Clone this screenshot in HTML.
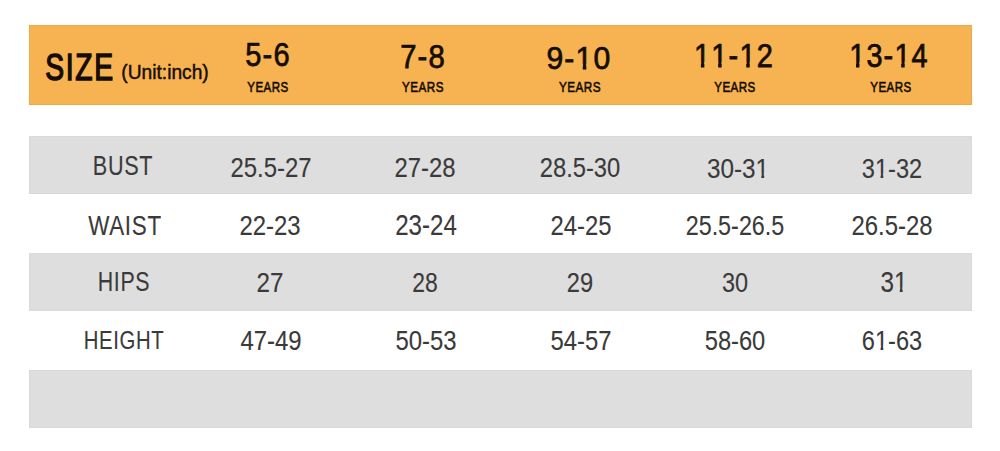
<!DOCTYPE html>
<html><head><meta charset="utf-8"><style>
html,body{margin:0;padding:0;}
body{width:1000px;height:451px;position:relative;overflow:hidden;background:#fff;font-family:"Liberation Sans",sans-serif;}
.b{position:absolute;}
.t{position:absolute;white-space:nowrap;line-height:1;transform-origin:50% 50%;}
.o{display:inline-block;clip-path:polygon(-0.1em -0.2em,0.7em -0.2em,0.7em 0.68em,0.355em 0.68em,0.355em 1.2em,0.237em 1.2em,0.237em 0.68em,-0.1em 0.68em)}
</style></head><body>
<div class="b" style="left:28px;top:24px;width:945px;height:82px;background:#FFFBE8"></div>
<div class="b" style="left:29px;top:25px;width:943px;height:80px;background:#F7B352;box-shadow:inset 0 0 0 1px #DDAE5C"></div>
<div class="b" style="left:29px;top:136px;width:943px;height:58px;background:#DEDEDE;box-shadow:inset 0 0 0 1px #D9D9D9"></div>
<div class="b" style="left:29px;top:253px;width:943px;height:58px;background:#DEDEDE;box-shadow:inset 0 0 0 1px #D9D9D9"></div>
<div class="b" style="left:29px;top:370px;width:943px;height:58px;background:#DEDEDE;box-shadow:inset 0 0 0 1px #D9D9D9"></div>
<div class="t" style="left:80.47px;top:49.56px;font-size:36.96px;color:#150d05;-webkit-text-stroke:1.50px currentColor;letter-spacing:0.060em;transform:translateX(-50%) scaleX(0.7643)">SIZE</div>
<div class="t" style="left:164.51px;top:62.47px;font-size:20.49px;color:#150d05;-webkit-text-stroke:0.45px currentColor;transform:translateX(-50%) scaleX(0.9378)">(Unit:inch)</div>
<div class="t" style="left:267.52px;top:37.92px;font-size:33.96px;color:#150d05;-webkit-text-stroke:0.75px currentColor;letter-spacing:0.040em;transform:translateX(-50%) scaleX(0.8554)">5-6</div>
<div class="t" style="left:268.19px;top:79.75px;font-size:14.96px;color:#150d05;-webkit-text-stroke:0.60px currentColor;letter-spacing:0.040em;transform:translateX(-50%) scaleX(0.7711)">YEARS</div>
<div class="t" style="left:423.20px;top:40.67px;font-size:32.46px;color:#150d05;-webkit-text-stroke:0.75px currentColor;letter-spacing:0.040em;transform:translateX(-50%) scaleX(0.9003)">7-8</div>
<div class="t" style="left:422.64px;top:79.34px;font-size:15.15px;color:#150d05;-webkit-text-stroke:0.60px currentColor;letter-spacing:0.040em;transform:translateX(-50%) scaleX(0.7687)">YEARS</div>
<div class="t" style="left:578.96px;top:42.45px;font-size:32.04px;color:#150d05;-webkit-text-stroke:0.75px currentColor;letter-spacing:0.040em;transform:translateX(-50%) scaleX(0.9414)">9-<span class="o">1</span>0</div>
<div class="t" style="left:579.71px;top:78.94px;font-size:15.40px;color:#150d05;-webkit-text-stroke:0.60px currentColor;letter-spacing:0.040em;transform:translateX(-50%) scaleX(0.7628)">YEARS</div>
<div class="t" style="left:734.44px;top:39.94px;font-size:32.61px;color:#150d05;-webkit-text-stroke:0.75px currentColor;letter-spacing:0.040em;transform:translateX(-50%) scaleX(0.8882)"><span class="o">1</span><span class="o">1</span>-<span class="o">1</span>2</div>
<div class="t" style="left:734.55px;top:79.31px;font-size:15.15px;color:#150d05;-webkit-text-stroke:0.60px currentColor;letter-spacing:0.040em;transform:translateX(-50%) scaleX(0.7660)">YEARS</div>
<div class="t" style="left:889.16px;top:39.55px;font-size:32.69px;color:#150d05;-webkit-text-stroke:0.75px currentColor;letter-spacing:0.040em;transform:translateX(-50%) scaleX(0.8836)"><span class="o">1</span>3-<span class="o">1</span>4</div>
<div class="t" style="left:890.69px;top:79.46px;font-size:15.00px;color:#150d05;-webkit-text-stroke:0.60px currentColor;letter-spacing:0.040em;transform:translateX(-50%) scaleX(0.7698)">YEARS</div>
<div class="t" style="left:123.12px;top:151.38px;font-size:28.35px;color:#3a3a3a;-webkit-text-stroke:0.12px currentColor;letter-spacing:0.030em;transform:translateX(-50%) scaleX(0.7641)">BUST</div>
<div class="t" style="left:270.69px;top:153.24px;font-size:28.41px;color:#3a3a3a;-webkit-text-stroke:0.12px currentColor;transform:translateX(-50%) scaleX(0.8431)">25.5-27</div>
<div class="t" style="left:425.35px;top:154.48px;font-size:27.73px;color:#3a3a3a;-webkit-text-stroke:0.12px currentColor;transform:translateX(-50%) scaleX(0.8625)">27-28</div>
<div class="t" style="left:580.25px;top:154.21px;font-size:27.64px;color:#3a3a3a;-webkit-text-stroke:0.12px currentColor;transform:translateX(-50%) scaleX(0.8601)">28.5-30</div>
<div class="t" style="left:737.82px;top:154.68px;font-size:27.14px;color:#3a3a3a;-webkit-text-stroke:0.12px currentColor;transform:translateX(-50%) scaleX(0.8959)">30-3<span class="o">1</span></div>
<div class="t" style="left:892.31px;top:154.70px;font-size:27.22px;color:#3a3a3a;-webkit-text-stroke:0.12px currentColor;transform:translateX(-50%) scaleX(0.8672)">3<span class="o">1</span>-32</div>
<div class="t" style="left:124.58px;top:211.69px;font-size:27.82px;color:#3a3a3a;-webkit-text-stroke:0.12px currentColor;letter-spacing:0.030em;transform:translateX(-50%) scaleX(0.8065)">WAIST</div>
<div class="t" style="left:270.49px;top:210.84px;font-size:28.47px;color:#3a3a3a;-webkit-text-stroke:0.12px currentColor;transform:translateX(-50%) scaleX(0.8409)">22-23</div>
<div class="t" style="left:425.53px;top:210.52px;font-size:28.67px;color:#3a3a3a;-webkit-text-stroke:0.12px currentColor;transform:translateX(-50%) scaleX(0.8420)">23-24</div>
<div class="t" style="left:581.12px;top:211.16px;font-size:28.56px;color:#3a3a3a;-webkit-text-stroke:0.12px currentColor;transform:translateX(-50%) scaleX(0.8361)">24-25</div>
<div class="t" style="left:735.39px;top:211.98px;font-size:28.13px;color:#3a3a3a;-webkit-text-stroke:0.12px currentColor;transform:translateX(-50%) scaleX(0.8304)">25.5-26.5</div>
<div class="t" style="left:891.88px;top:211.36px;font-size:28.17px;color:#3a3a3a;-webkit-text-stroke:0.12px currentColor;transform:translateX(-50%) scaleX(0.8498)">26.5-28</div>
<div class="t" style="left:123.85px;top:267.70px;font-size:27.42px;color:#3a3a3a;-webkit-text-stroke:0.12px currentColor;letter-spacing:0.030em;transform:translateX(-50%) scaleX(0.7790)">HIPS</div>
<div class="t" style="left:270.13px;top:267.91px;font-size:28.54px;color:#3a3a3a;-webkit-text-stroke:0.12px currentColor;transform:translateX(-50%) scaleX(0.8484)">27</div>
<div class="t" style="left:425.30px;top:268.23px;font-size:28.36px;color:#3a3a3a;-webkit-text-stroke:0.12px currentColor;transform:translateX(-50%) scaleX(0.8091)">28</div>
<div class="t" style="left:580.28px;top:267.73px;font-size:28.55px;color:#3a3a3a;-webkit-text-stroke:0.12px currentColor;transform:translateX(-50%) scaleX(0.8286)">29</div>
<div class="t" style="left:735.32px;top:268.15px;font-size:28.51px;color:#3a3a3a;-webkit-text-stroke:0.12px currentColor;transform:translateX(-50%) scaleX(0.8250)">30</div>
<div class="t" style="left:893.99px;top:267.76px;font-size:28.70px;color:#3a3a3a;-webkit-text-stroke:0.12px currentColor;transform:translateX(-50%) scaleX(0.8473)">3<span class="o">1</span></div>
<div class="t" style="left:123.54px;top:327.06px;font-size:26.36px;color:#3a3a3a;-webkit-text-stroke:0.12px currentColor;letter-spacing:0.030em;transform:translateX(-50%) scaleX(0.7706)">HEIGHT</div>
<div class="t" style="left:271.05px;top:326.55px;font-size:27.93px;color:#3a3a3a;-webkit-text-stroke:0.12px currentColor;transform:translateX(-50%) scaleX(0.8561)">47-49</div>
<div class="t" style="left:426.23px;top:326.38px;font-size:28.45px;color:#3a3a3a;-webkit-text-stroke:0.12px currentColor;transform:translateX(-50%) scaleX(0.8394)">50-53</div>
<div class="t" style="left:581.11px;top:325.74px;font-size:28.46px;color:#3a3a3a;-webkit-text-stroke:0.12px currentColor;transform:translateX(-50%) scaleX(0.8398)">54-57</div>
<div class="t" style="left:734.96px;top:325.90px;font-size:28.28px;color:#3a3a3a;-webkit-text-stroke:0.12px currentColor;transform:translateX(-50%) scaleX(0.8378)">58-60</div>
<div class="t" style="left:892.30px;top:326.15px;font-size:28.49px;color:#3a3a3a;-webkit-text-stroke:0.12px currentColor;transform:translateX(-50%) scaleX(0.8274)">6<span class="o">1</span>-63</div>
</body></html>
